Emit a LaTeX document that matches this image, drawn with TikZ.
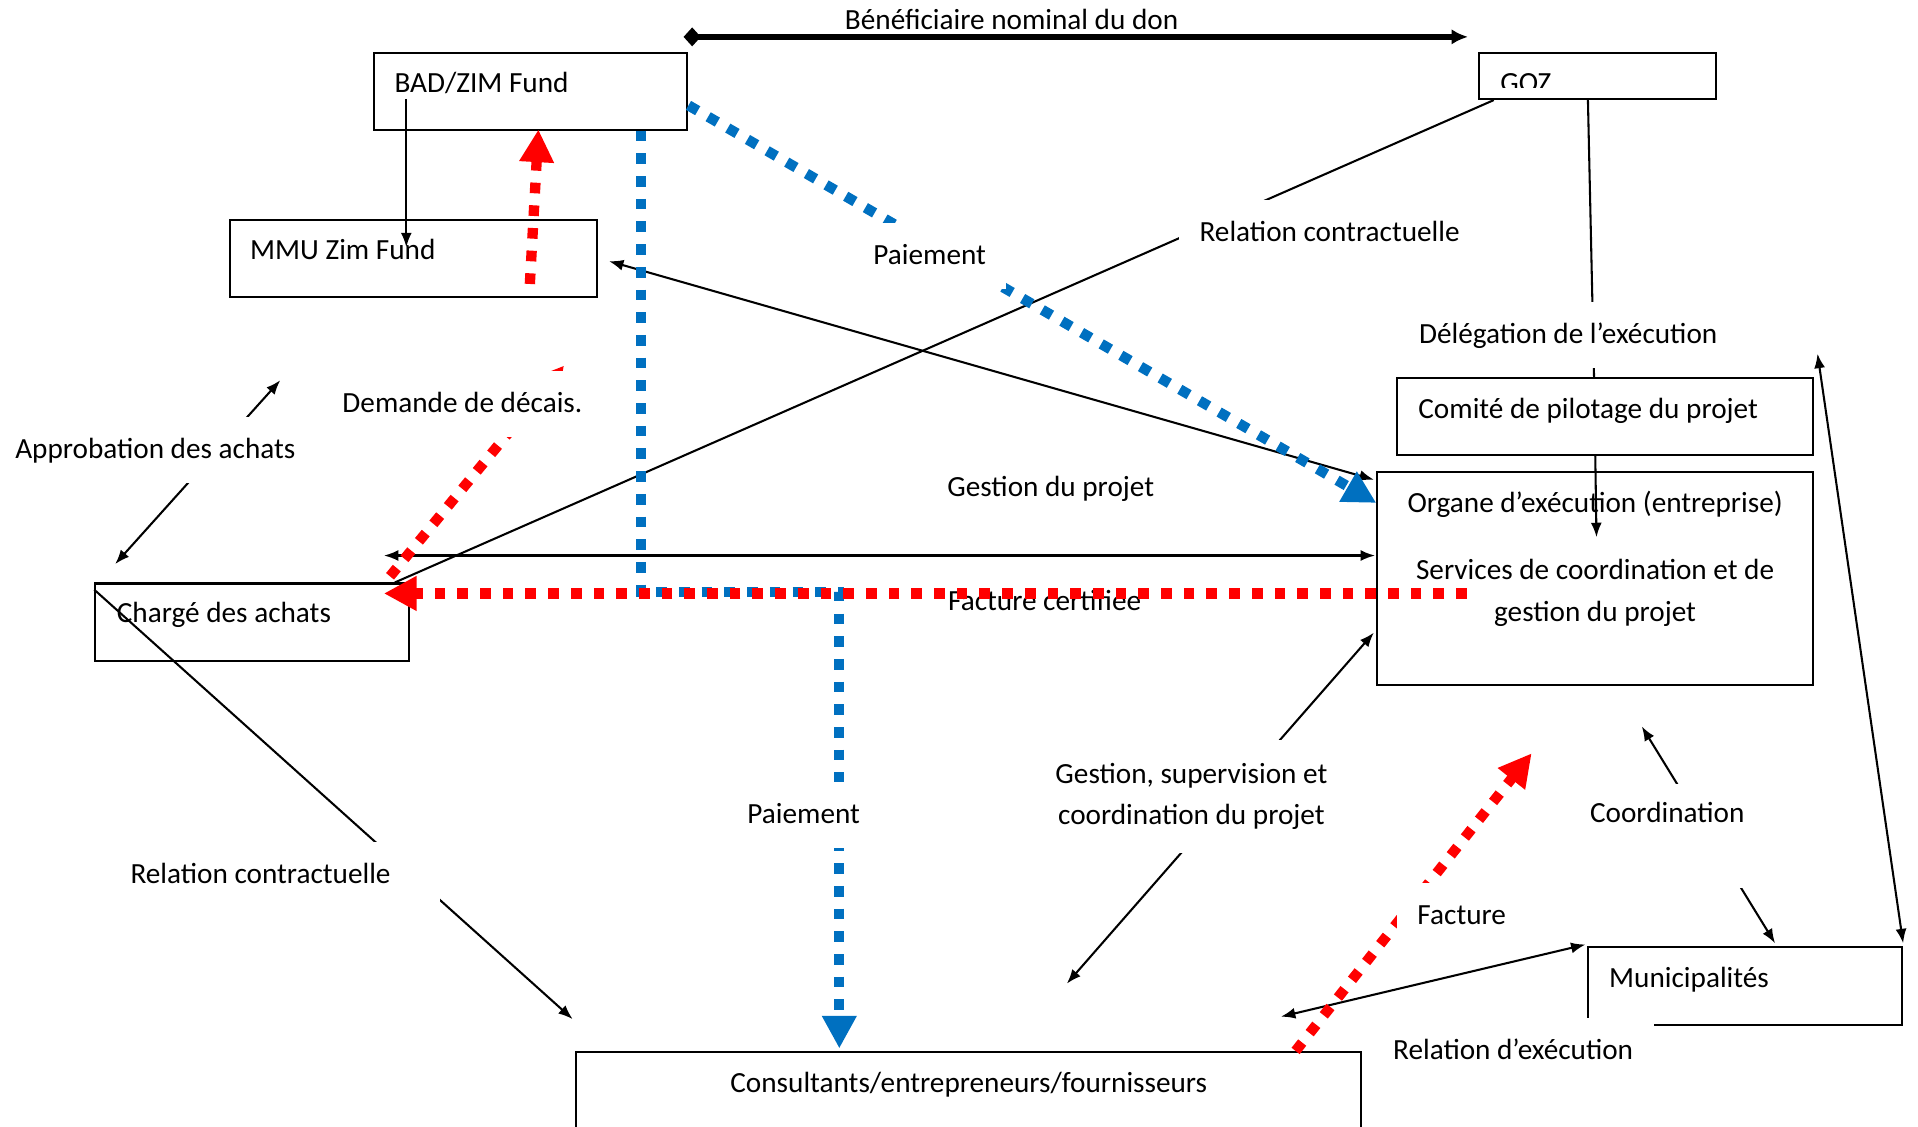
\documentclass[tikz,border=0pt]{standalone}
\usepackage{fontspec}
\setmainfont{Carlito}
\usepackage{tikz}
\usetikzlibrary{arrows.meta,calc,fit}

\definecolor{payblue}{HTML}{0070C0}
\definecolor{billred}{HTML}{FF0000}

\tikzset{
  box/.style={draw, line width=0.6pt, inner sep=0pt},
  txt/.style={font=\fontsize{8.5}{12}\selectfont, inner sep=0pt,
    text height=0.75em, text depth=0.25em, yshift=-0.25mm},
  lbl/.style={txt, fill=white, inner xsep=2.1mm, inner ysep=1.6mm},
  link/.style={line width=0.6pt},
  bene/.style={line width=1.6pt,
    {Diamond[length=5pt,width=5.5pt]}-{Latex[length=4.8pt,width=4.5pt]}},
  paid/.style={line width=3pt, draw=payblue, dash pattern=on 3.1pt off 3.5pt,
    -{Triangle[length=9.5pt,width=9.5pt]}},
  bill/.style={line width=3pt, draw=billred, dash pattern=on 3.1pt off 3.5pt,
    -{Triangle[length=9.5pt,width=9.5pt]}},
}

\begin{document}
\begin{tikzpicture}[x=0.125mm, y=-0.125mm, >={Latex[length=4.2pt,width=3.2pt]}]
  \useasboundingbox (0,0) rectangle (1568,921);

  %Boxes
  \begin{scope}[every node/.style={box}]
    \node[fit={(306,43) (562,106)}] (bad) {};
    \node[fit={(1209,43) (1403,81)}] (goz) {};
    \node[fit={(188,180) (488,243)}] (mmu) {};
    \node[fit={(1142,309) (1482,372)}] (copil) {};
    \node[fit={(1126,386) (1482,560)}] (org) {};
    \node[fit={(78,477) (334,540)}] (achats) {};
    \node[fit={(1298,774) (1555,838)}] (muni) {};
    \node[fit={(471,860) (1113,940)}] (cons) {};
  \end{scope}

  %Box texts
  \begin{scope}[every node/.style={txt, anchor=west}]
    \node (badt) at (322,67) {BAD/ZIM Fund};
    \node (mmut) at (204,203) {MMU Zim Fund};
    \node (copilt) at (1159,333) {Comité de pilotage du projet};
    \node (achatst) at (95,500) {Chargé des achats};
    \node (munit) at (1315,798) {Municipalités};
  \end{scope}
  \begin{scope}[every node/.style={txt}]
    \node (orgt1) at (1304,410) {Organe d’exécution (entreprise)};
    \node (orgt2) at (1304,465) {Services de coordination et de};
    \node (orgt3) at (1304,499) {gestion du projet};
    \node (const) at (792,884) {Consultants/entrepreneurs/fournisseurs};
    \node (benet) at (827,15) {Bénéficiaire nominal du don};
    \node (gestt) at (859,397) {Gestion du projet};
  \end{scope}
  \begin{scope}
    \clip (goz.north west) rectangle ($(goz.south east)+(0,-10)$);
    \node[txt, anchor=base west] (gozt) at (1226,74) {GOZ};
  \end{scope}

  %Links
  \draw[bene] ($(bad.north east)+(-4,-12)$) -- ($(goz.north west)+(-8,-12)$);
  \draw[link, ->] ($(bad.south west)+(27,-26)$) -- ($(mmu.north west)+(145,23)$);
  \draw[link, <->] ($(mmu.east)+(9,2)$) -- ($(org.north west)+(-2,7)$);
  \draw[link] ($(goz.south west)+(13,0)$) -- ($(achats.north east)+(-12,0)$);
  \draw[link] ($(goz.south west)+(90,0)$) -- ($(copil.north west)+(162,0)$);
  \draw[link, ->] ($(copil.south west)+(163,0)$) -- ($(org.north west)+(180,54)$);
  \draw[link, <->] ($(achats.north east)+(-21,-22)$) -- ($(org.north west)+(-1,69)$);
  \draw[link, <->] ($(achats.north west)+(17,-15)$) -- ($(mmu.south west)+(42,67)$);
  \draw[link, ->] ($(achats.north west)+(0,6)$) -- ($(cons.north west)+(-2,-26)$);
  \draw[link, <->] ($(cons.north west)+(402,-55)$) -- ($(org.north west)+(-2,132)$);
  \draw[link, <->] ($(org.south west)+(217,33)$) -- ($(muni.north west)+(154,-2)$);
  \draw[link, <->] ($(copil.north east)+(3,-19)$) -- ($(muni.north east)+(0,-2)$);
  \draw[link, <->] ($(cons.north west)+(577,-28)$) -- ($(muni.north west)+(-1,-1)$);

  %Payments
  \draw[paid] ($(bad.south west)+(219,0)$) |- ($(cons.north west)+(216,-375)$)
    -- ($(cons.north west)+(216,-2)$);
  \draw[paid] ($(bad.north east)+(0,44)$) -- ($(org.north west)+(0,26)$);

  %Invoices
  \draw[bill] ($(mmu.north west)+(246,53)$) -- ($(bad.south west)+(135,-1)$);
  \draw[bill] ($(achats.north east)+(-16,-5)$) -- ($(mmu.south west)+(274,55)$);
  \draw[bill] ($(cons.north west)+(589,0)$) -- ($(org.south west)+(127,55)$);

  %Labels
  \begin{scope}[every node/.style={lbl}]
    \node (pai1) at (760,207) {Paiement};
    \node (relc1) at (1087,188) {Relation contractuelle};
    \node (deleg) at (1282,272) {Délégation de l’exécution};
    \node (demande) at (378,328) {Demande de décais.};
    \node (appro) at (127,366) {Approbation des achats};
    \node (pai2) at (657,664) {Paiement};
    \node[align=center, text height={}, text depth={}, inner ysep=2.4mm]
      (gestsup) at (974,649) {Gestion, supervision et\\coordination du projet};
    \node[anchor=base, text height=3.9mm, text depth=6.75mm, inner ysep=0pt]
      (coord) at (1363,670) {Coordination};
    \node[inner xsep=5mm] (relc2) at (213,713) {Relation contractuelle};
    \node (facture) at (1195,747) {Facture};
    \node (relexec) at (1237,857) {Relation d’exécution};
    \node (factc) at (854,490) {Facture certifiée};
  \end{scope}

  \draw[bill] ($(org.north west)+(74,100)$) -- ($(achats.north east)+(-21,9)$);
\end{tikzpicture}
\end{document}
